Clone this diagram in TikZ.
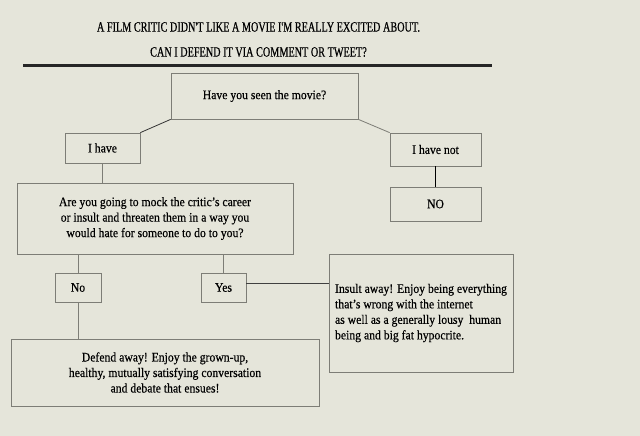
\documentclass[tikz,border=0pt]{standalone}
\usepackage{fontspec}
\setmainfont[FakeStretch=0.9, FakeBold=0.4]{Liberation Serif}
\newfontfamily\titlefont[FakeStretch=0.72, FakeBold=0.5]{Liberation Serif}
\definecolor{paper}{RGB}{229,229,218}
\definecolor{edge}{RGB}{125,125,118}

\begin{document}
\begin{tikzpicture}[x=1pt, y=-1pt,
  box/.style={draw=edge, line width=.8pt, inner sep=0pt, align=center,
    font=\fontsize{13}{15.5}\selectfont},
  link/.style={draw=edge, line width=.8pt}]
\fill[paper] (0,0) rectangle (640,436);
\useasboundingbox (0,0) rectangle (640,436);

\node[align=center, font=\titlefont\fontsize{14.2}{25}\selectfont] (title) at (258.5,39.5)
  {A FILM CRITIC DIDN'T LIKE A MOVIE I'M REALLY EXCITED ABOUT.\\CAN I DEFEND IT VIA COMMENT OR TWEET?};
\coordinate (rl) at (23,66);
\coordinate (rr) at (492,66);
\draw[line width=3pt, black!85] (rl) -- (rr);

\node[box, minimum width=187pt, minimum height=46pt] (seen) at (264.5,96) {Have you seen the movie?};
\node[box, minimum width=75pt, minimum height=30pt] (have) at (102.5,148) {I have};
\node[box, minimum width=91pt, minimum height=33pt] (havenot) at (435.5,149.5) {I have not};
\node[box, minimum width=91pt, minimum height=34pt] (nope) at (435.5,204) {NO};
\node[box, minimum width=276pt, minimum height=71pt] (mock) at (155,218.5)
  {Are you going to mock the critic's career\\or insult and threaten them in a way you\\would hate for someone to do to you?};
\node[box, minimum width=46pt, minimum height=29pt] (no) at (78,287.5) {No};
\node[box, minimum width=45pt, minimum height=29pt] (yes) at (223.5,287.5) {Yes};
\node[box, minimum width=184pt, minimum height=118pt, align=left] (insult) at (421,313)
  {Insult away! Enjoy being everything\\that's wrong with the internet\\as well as a generally lousy\ \ human\\being and big fat hypocrite.};
\node[box, minimum width=308pt, minimum height=67pt] (defend) at (165,372.5)
  {Defend away! Enjoy the grown-up,\\healthy, mutually satisfying conversation\\and debate that ensues!};

\draw[link, black!80] (seen.south west) -- (have.north east);
\draw[link] (seen.south east) -- (havenot.north west);
\draw[link] (have.south) -- (have.south |- mock.north);
\draw[link, black, line width=1.2pt] (havenot.south) -- (nope.north);
\draw[link] (no.north) -- (no.north |- mock.south);
\draw[link] (yes.north) -- (yes.north |- mock.south);
\draw[link, black!75] ([yshift=4pt]yes.east) -- ([yshift=4pt]yes.east -| insult.west);
\draw[link] (no.south) -- (no.south |- defend.north);
\end{tikzpicture}
\end{document}
